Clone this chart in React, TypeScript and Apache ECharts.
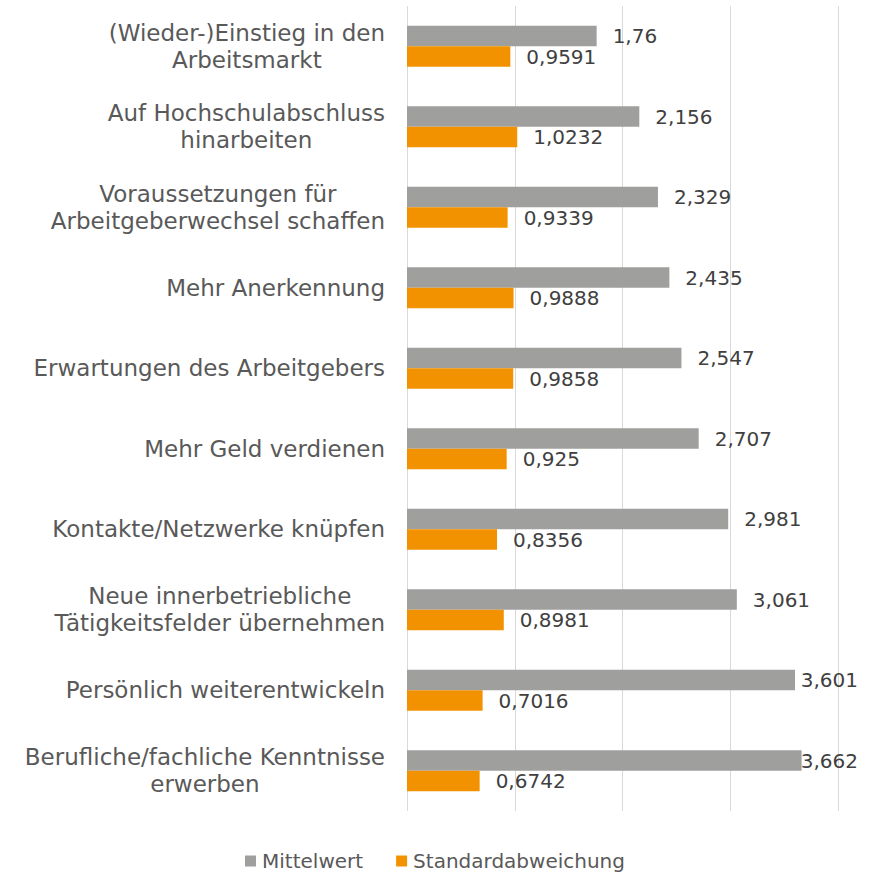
import React, { useEffect, useRef } from "react";
import * as echarts from "echarts";

const categories = [
  "(Wieder-)Einstieg in den\nArbeitsmarkt",
  "Auf Hochschulabschluss\nhinarbeiten",
  "Voraussetzungen für\nArbeitgeberwechsel schaffen",
  "Mehr Anerkennung",
  "Erwartungen des Arbeitgebers",
  "Mehr Geld verdienen",
  "Kontakte/Netzwerke knüpfen",
  "Neue innerbetriebliche\nTätigkeitsfelder übernehmen",
  "Persönlich weiterentwickeln",
  "Berufliche/fachliche Kenntnisse\nerwerben",
];

const mittelwert = [1.76, 2.156, 2.329, 2.435, 2.547, 2.707, 2.981, 3.061, 3.601, 3.662];
const standardabweichung = [0.9591, 1.0232, 0.9339, 0.9888, 0.9858, 0.925, 0.8356, 0.8981, 0.7016, 0.6742];

const seriesNames = ["Mittelwert", "Standardabweichung"];

export default function App() {
  const ref = useRef<HTMLDivElement>(null);
  useEffect(() => {
    if (!ref.current) return;
    const chart = echarts.init(ref.current, undefined, { renderer: "svg" });
    const font = "'DejaVu Sans', Verdana, sans-serif";
    const valueLabel = {
      show: true,
      position: "right",
      distance: 16,
      color: "#404040",
      fontSize: 20,
      fontFamily: font,
      formatter: (p: any) => String(p.value).replace(".", ","),
    };
    const clamp = (params: any) => {
      const r = params.labelRect;
      const maxRight = 858;
      if (r && r.x + r.width > maxRight)
        return {
          x: maxRight - r.width,
          y: r.y + r.height / 2,
          align: "left",
          verticalAlign: "middle",
        };
      return {};
    };
    chart.setOption({
      animation: false,
      backgroundColor: "#ffffff",
      grid: { left: 407, right: 32, top: 6, bottom: 63 },
      xAxis: {
        type: "value",
        min: 0,
        max: 4,
        interval: 1,
        axisLabel: { show: false },
        axisLine: { show: false },
        axisTick: { show: false },
        splitLine: { show: true, lineStyle: { color: "#D9D9D9", width: 1 } },
      },
      yAxis: {
        type: "category",
        data: categories,
        inverse: true,
        axisLine: { show: false },
        axisTick: { show: false },
        axisLabel: {
          margin: 22,
          align: "right",
          formatter: (v: string) =>
            v
              .split("\n")
              .map((l) => `{c|${l}}`)
              .join("\n"),
          rich: {
            c: {
              align: "center",
              color: "#595959",
              fontSize: 23,
              fontFamily: font,
              lineHeight: 27,
            },
          },
        },
      },
      legend: {
        data: seriesNames,
        top: 846,
        left: "center",
        itemWidth: 11,
        itemHeight: 11,
        itemGap: 33,
        icon: "rect",
        textStyle: { color: "#595959", fontSize: 20, fontFamily: font, padding: [0, 0, 0, 1] },
      },
      series: [
        {
          name: seriesNames[0],
          type: "bar",
          data: mittelwert,
          barWidth: 20.5,
          barGap: "0%",
          itemStyle: { color: "#9F9F9E" },
          label: valueLabel,
          labelLayout: clamp,
        },
        {
          name: seriesNames[1],
          type: "bar",
          data: standardabweichung,
          barWidth: 20.5,
          barGap: "0%",
          itemStyle: { color: "#F39200" },
          label: valueLabel,
          labelLayout: clamp,
        },
      ],
    });
    return () => chart.dispose();
  }, []);
  return (
    <div
      ref={ref}
      style={{ position: "fixed", left: 0, top: 0, width: 870, height: 874 }}
    />
  );
}
